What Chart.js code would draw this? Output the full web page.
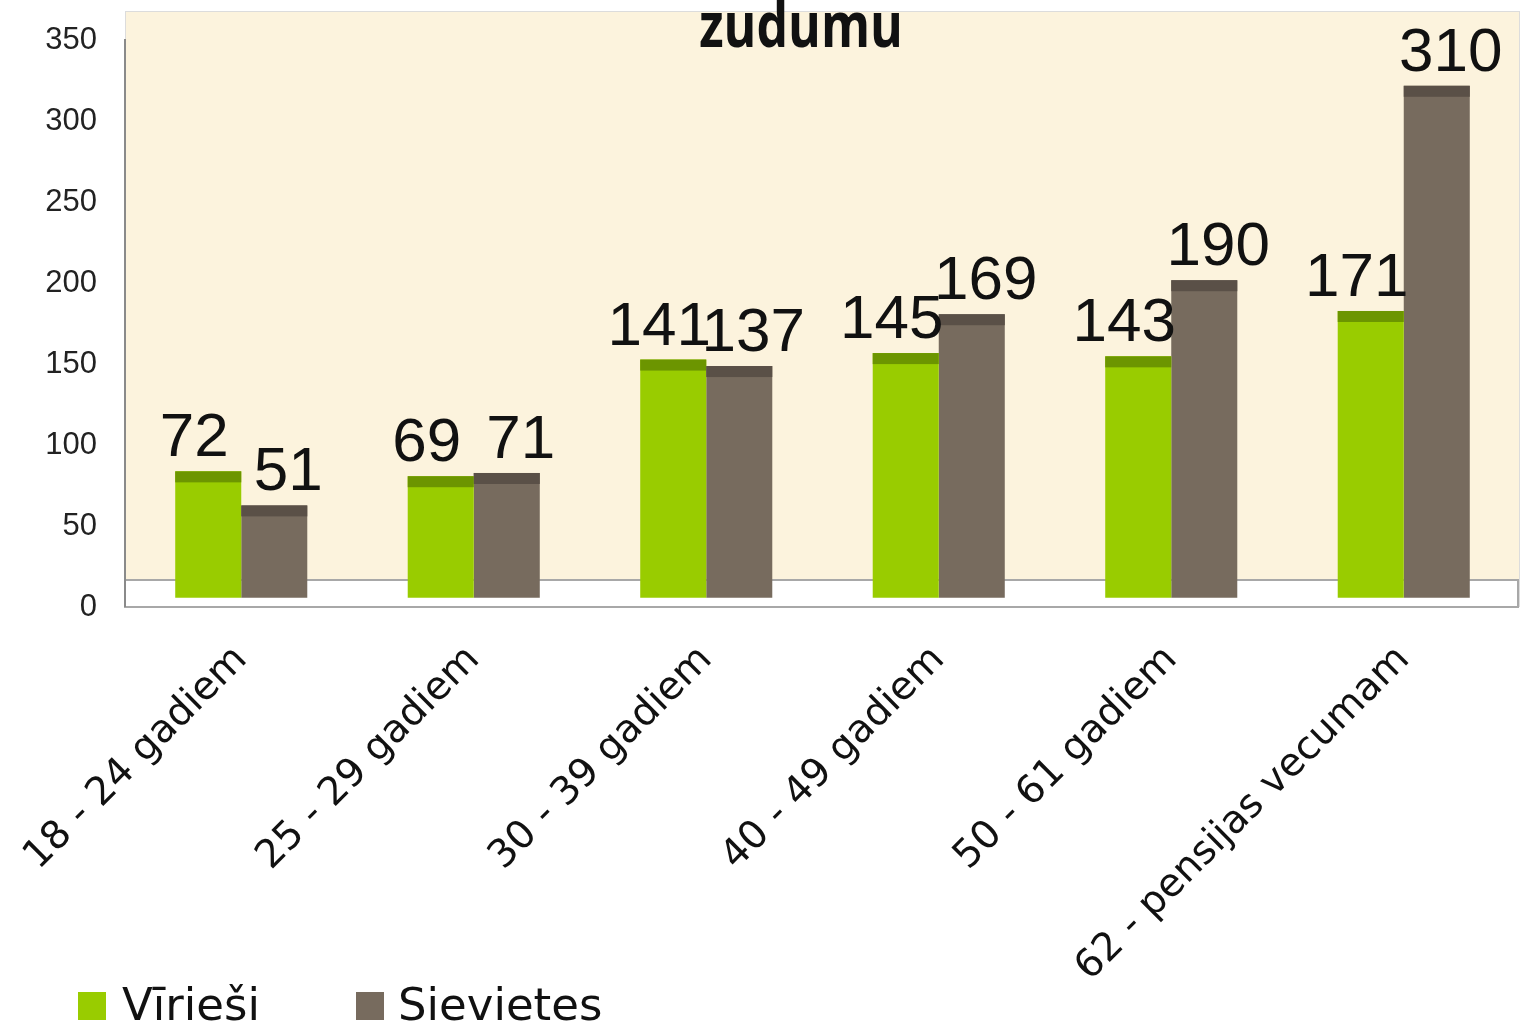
<!DOCTYPE html>
<html><head><meta charset="utf-8">
<script src="https://cdn.jsdelivr.net/npm/chart.js@4/dist/chart.umd.min.js"></script>
<style>html,body{margin:0;padding:0;background:#fff;overflow:hidden}#wrap{width:1521px;height:1027px;position:relative}</style>
</head><body><div id="wrap"><canvas id="c" width="1521" height="1027"></canvas></div>
<script>
const categories = ["18 - 24 gadiem","25 - 29 gadiem","30 - 39 gadiem","40 - 49 gadiem","50 - 61 gadiem","62 - pensijas vecumam"];
const seriesNames = ["Vīrieši","Sievietes"];
const men = [72,69,141,145,143,171];
const women = [51,71,137,169,190,310];
const yTicks = [0,50,100,150,200,250,300,350];
const chartTitle = "zudumu";

const COLORS = ['#99cc00','#776b5e'];
const CAPS = ['#6c9500','#5a5047'];
const LABEL_SHIFT = [-14, 14];

const plotBg = {
  id:'plotBg',
  beforeDatasetsDraw(chart){
    const {ctx, chartArea:ca} = chart;
    ctx.save();
    ctx.fillStyle = '#fcf3dd';
    ctx.fillRect(ca.left, ca.top, ca.right-ca.left, ca.bottom-ca.top);
    ctx.strokeStyle = '#dcdcdc'; ctx.lineWidth = 1;
    ctx.strokeRect(ca.left+0.5, ca.top+0.5, ca.right-ca.left-1, ca.bottom-ca.top-1);
    const ft = ca.bottom - 27;
    ctx.fillStyle = '#ffffff';
    ctx.fillRect(ca.left, ft, ca.right-ca.left-2, 27);
    ctx.strokeStyle = '#a8a8a8'; ctx.lineWidth = 2;
    ctx.strokeRect(ca.left, ft, ca.right-ca.left-2, 27);
    const y = chart.scales.y;
    ctx.strokeStyle = '#8a8a8a'; ctx.lineWidth = 2;
    ctx.beginPath(); ctx.moveTo(ca.left, y.getPixelForValue(350)-1); ctx.lineTo(ca.left, ca.bottom); ctx.stroke();
    ctx.restore();
  }
};
const capsAndLabels = {
  id:'capsAndLabels',
  afterDatasetsDraw(chart){
    const ctx = chart.ctx;
    ctx.save();
    chart.data.datasets.forEach((ds, di) => {
      const meta = chart.getDatasetMeta(di);
      meta.data.forEach((el) => {
        ctx.fillStyle = CAPS[di];
        ctx.fillRect(el.x - el.width/2, el.y, el.width, 11);
      });
    });
    ctx.font = "62px 'Liberation Sans'";
    ctx.fillStyle = '#111';
    ctx.textAlign = 'center';
    ctx.textBaseline = 'alphabetic';
    chart.data.datasets.forEach((ds, di) => {
      const meta = chart.getDatasetMeta(di);
      meta.data.forEach((el, i) => {
        ctx.fillText(String(ds.data[i]), el.x + LABEL_SHIFT[di], el.y - 15);
      });
    });
    ctx.restore();
  }
};
const titleLegend = {
  id:'titleLegend',
  afterDraw(chart){
    const ctx = chart.ctx;
    ctx.save();
    ctx.fillStyle = '#111';
    ctx.font = "bold 50px 'Open Sans'";
    ctx.textAlign = 'center';
    ctx.textBaseline = 'alphabetic';
    ctx.translate(801, 47);
    ctx.scale(1, 1.25);
    ctx.fillText(chartTitle, 0, 0);
    ctx.restore();
    ctx.save();
    const items = [{bx:78, tx:122},{bx:356, tx:398}];
    chart.data.datasets.forEach((ds, di) => {
      ctx.fillStyle = ds.backgroundColor;
      ctx.fillRect(items[di].bx, 992, 28, 28);
      ctx.fillStyle = '#111';
      ctx.font = "45px 'DejaVu Sans'";
      ctx.textAlign = 'left';
      ctx.textBaseline = 'alphabetic';
      ctx.fillText(ds.label, items[di].tx, 1020);
    });
    ctx.restore();
  }
};

new Chart(document.getElementById('c'), {
  type:'bar',
  data:{
    labels: categories,
    datasets:[
      {label: seriesNames[0], data: men, backgroundColor: COLORS[0], yAxisID:'yBar', base:-6},
      {label: seriesNames[1], data: women, backgroundColor: COLORS[1], yAxisID:'yBar', base:-6}
    ]
  },
  options:{
    responsive:false,
    animation:false,
    devicePixelRatio:1,
    categoryPercentage:0.568,
    barPercentage:1.0,
    layout:{padding:{top:11, right:1, left:0, bottom:0}},
    plugins:{legend:{display:false}, title:{display:false}, tooltip:{enabled:false}},
    scales:{
      x:{
        offset:true,
        grid:{display:false, drawTicks:false},
        border:{display:false},
        ticks:{font:{family:"'DejaVu Sans'", size:39}, color:'#111', minRotation:45, maxRotation:45, padding:30, autoSkip:false},
        afterFit(s){ s.height = 420; s.paddingLeft = 0; s.paddingRight = 0; s.paddingTop = 0; s.paddingBottom = 0; }
      },
      y:{
        position:'left',
        min:0, max:367.9,
        grid:{display:false, drawTicks:false},
        border:{display:false},
        afterBuildTicks(s){ s.ticks = yTicks.map(v => ({value:v})); },
        ticks:{font:{family:"'Liberation Sans'", size:31}, color:'#222', padding:28},
        afterFit(s){ s.width = 125; s.paddingTop = 0; s.paddingBottom = 0; s.paddingLeft = 0; s.paddingRight = 0; }
      },
      yBar:{display:false, min:-11.73, max:356.17}
    }
  },
  plugins:[plotBg, capsAndLabels, titleLegend]
});
</script>
</body></html>
